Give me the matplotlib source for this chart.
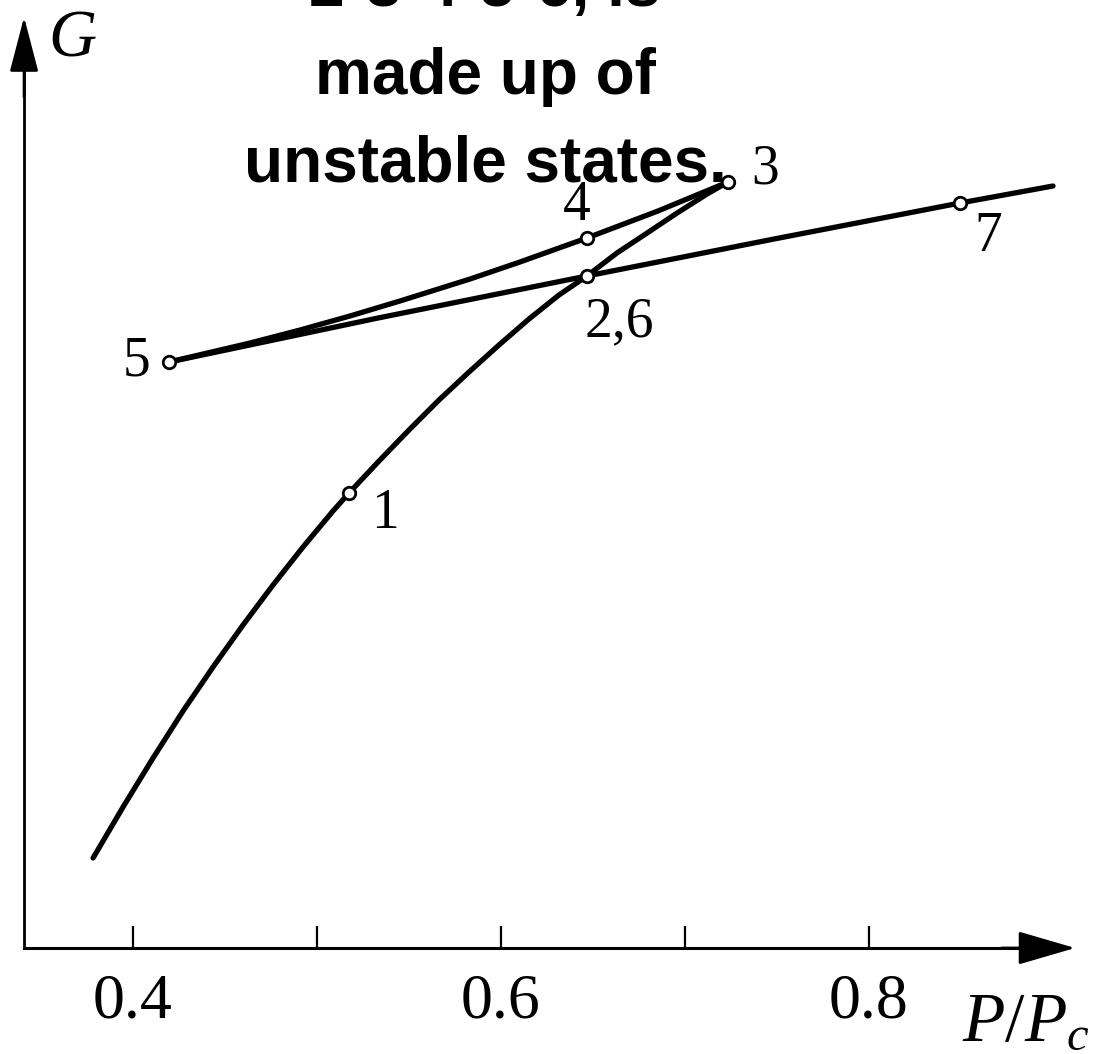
import matplotlib
matplotlib.use("Agg")
import matplotlib.pyplot as plt

plt.rcParams['mathtext.fontset'] = 'custom'
plt.rcParams['mathtext.it'] = 'Liberation Serif:italic'
plt.rcParams['mathtext.rm'] = 'Liberation Serif'

# gas branch, start -> 1 -> 2 -> 3
gas_p = [0.3783, 0.3946, 0.4109, 0.4272, 0.4435, 0.4598, 0.4761, 0.4924, 0.5087, 0.5174,
         0.5337, 0.5500, 0.5663, 0.5826, 0.5989, 0.6152, 0.6315, 0.6467,
         0.6630, 0.6794, 0.6957, 0.7120, 0.7234]
gas_g = [0.90, 1.41, 1.90, 2.37, 2.81, 3.23, 3.63, 4.01, 4.37, 4.55,
         4.87, 5.18, 5.48, 5.76, 6.03, 6.29, 6.53, 6.72,
         6.95, 7.15, 7.35, 7.54, 7.66]
# unstable branch 3 -> 4 -> 5
unst_p = [0.7234, 0.6853, 0.6467, 0.6103, 0.5832, 0.5451, 0.5179, 0.4908, 0.4636, 0.4196]
unst_g = [7.66, 7.37, 7.10, 6.86, 6.69, 6.47, 6.32, 6.18, 6.05, 5.86]
# liquid branch 5 -> 6 -> 7 -> end
liq_p = [0.4196, 0.5332, 0.6467, 0.7484, 0.8495, 0.9000]
liq_g = [5.86, 6.30, 6.72, 7.09, 7.45, 7.62]

# marked states
point_labels = ["1", "2,6", "3", "4", "5", "7"]
point_p = [0.5174, 0.6467, 0.7234, 0.6467, 0.4196, 0.8495]
point_g = [4.55, 6.72, 7.66, 7.10, 5.86, 7.45]

tick_values = [0.4, 0.5, 0.6, 0.7, 0.8]
tick_labels = ["0.4", "", "0.6", "", "0.8"]

overlay_lines = ["2-3-4-5-6, is", "made up of", "unstable states."]

# label offsets in pixels (x right, y up)
label_offsets = [(36, -21), (32, -46), (37, 13), (-10, 32), (-33, 0), (28, -34)]

x_origin, x_tip = 0.3408, 0.912
y_tip = 9.31

fig = plt.figure(figsize=(11.02, 10.54), dpi=100)
ax = fig.add_axes([0, 0, 1, 1])
ax.set_xlim(0.32772, 0.92663)
ax.set_ylim(-1.06, 9.48)

line_kw = dict(color="black", lw=3.8, solid_capstyle="round", solid_joinstyle="round", zorder=2)
ax.plot(gas_p, gas_g, **line_kw)
ax.plot(unst_p, unst_g, **line_kw)
ax.plot(liq_p, liq_g, **line_kw)
ax.plot(point_p, point_g, "o", ls="none", ms=9, mfc="white", mec="black", mew=2, zorder=3)

serif = "Liberation Serif"
for lab, p, g, off in zip(point_labels, point_p, point_g, label_offsets):
    ax.annotate(lab, xy=(p, g), xytext=off, textcoords="offset pixels",
                ha="center", va="center", fontsize=40, family=serif)

# axes with arrows
for s in ["top", "right"]:
    ax.spines[s].set_visible(False)
ax.spines["bottom"].set_position(("data", 0))
ax.spines["bottom"].set_bounds(x_origin, x_tip - 0.01)
ax.spines["left"].set_position(("data", x_origin))
ax.spines["left"].set_bounds(0, y_tip - 0.2)
ax.spines["bottom"].set_linewidth(2.2)
ax.spines["left"].set_linewidth(2.0)

ax.set_xticks(tick_values)
ax.set_xticklabels(tick_labels, family=serif, fontsize=46)
ax.tick_params(axis="x", direction="in", length=16, width=1.6, pad=18)
ax.set_yticks([])

ax.annotate("", xy=(x_tip, 0), xytext=(x_tip - 0.04, 0),
            arrowprops=dict(arrowstyle="-|>,head_length=2.4,head_width=0.7",
                            mutation_scale=15, color="black", lw=2, shrinkA=0, shrinkB=0))
ax.annotate("", xy=(x_origin, y_tip), xytext=(x_origin, y_tip - 0.8),
            arrowprops=dict(arrowstyle="-|>,head_length=2.3,head_width=0.6",
                            mutation_scale=15, color="black", lw=2, shrinkA=0, shrinkB=0))

ax.text(72 / 1102, 1 - 40 / 1054, "G", transform=ax.transAxes, ha="center", va="center",
        fontsize=48, family=serif, style="italic")
ax.text(1026 / 1102, 1 - 1040 / 1054, "$P/P_c$", transform=ax.transAxes, ha="center",
        va="baseline", fontsize=50)

baselines = [6, 94, 181]
for txt, b in zip(overlay_lines, baselines):
    fig.text(485 / 1102, 1 - b / 1054, txt, ha="center", va="baseline",
             fontsize=46, fontweight="bold", family="Liberation Sans")

fig.savefig("out.png", dpi=100, facecolor="white")
